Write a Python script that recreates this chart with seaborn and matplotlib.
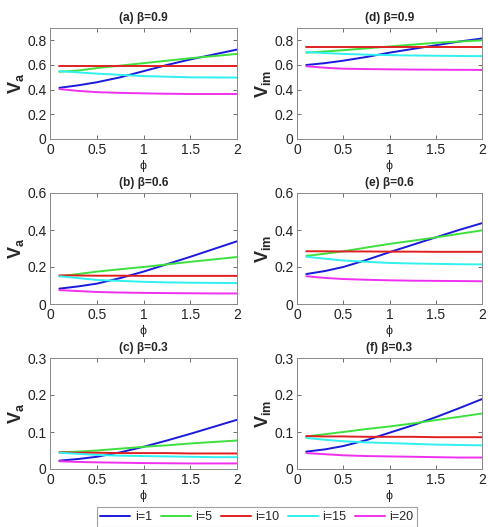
import numpy as np
import pandas as pd
import matplotlib
matplotlib.use("Agg")
import matplotlib.pyplot as plt
import seaborn as sns

phi = [0.1, 0.3, 0.5, 0.75, 1.0, 1.25, 1.5, 1.75, 2.0]
series_labels = ["i=1", "i=5", "i=10", "i=15", "i=20"]

# (a) Va, beta=0.9
a_i1 = [0.415, 0.435, 0.46, 0.50, 0.55, 0.60, 0.645, 0.685, 0.725]
a_i5 = [0.545, 0.555, 0.575, 0.595, 0.615, 0.635, 0.655, 0.672, 0.69]
a_i10 = [0.595, 0.595, 0.595, 0.595, 0.595, 0.595, 0.595, 0.595, 0.595]
a_i15 = [0.55, 0.54, 0.53, 0.52, 0.51, 0.505, 0.50, 0.499, 0.498]
a_i20 = [0.405, 0.39, 0.38, 0.374, 0.37, 0.367, 0.365, 0.365, 0.365]
# (d) Vim, beta=0.9
d_i1 = [0.60, 0.615, 0.635, 0.665, 0.70, 0.73, 0.76, 0.79, 0.815]
d_i5 = [0.70, 0.71, 0.72, 0.735, 0.75, 0.765, 0.78, 0.79, 0.80]
d_i10 = [0.745, 0.745, 0.745, 0.745, 0.745, 0.745, 0.745, 0.745, 0.745]
d_i15 = [0.705, 0.697, 0.69, 0.684, 0.68, 0.677, 0.675, 0.673, 0.672]
d_i20 = [0.59, 0.578, 0.57, 0.567, 0.565, 0.563, 0.562, 0.561, 0.56]
# (b) Va, beta=0.6
b_i1 = [0.083, 0.095, 0.11, 0.14, 0.175, 0.215, 0.255, 0.297, 0.339]
b_i5 = [0.15, 0.162, 0.175, 0.188, 0.20, 0.214, 0.228, 0.241, 0.254]
b_i10 = [0.155, 0.154, 0.153, 0.153, 0.152, 0.152, 0.152, 0.152, 0.152]
b_i15 = [0.15, 0.14, 0.13, 0.125, 0.12, 0.117, 0.115, 0.114, 0.113]
b_i20 = [0.075, 0.07, 0.065, 0.062, 0.06, 0.059, 0.058, 0.057, 0.057]
# (e) Vim, beta=0.6
e_i1 = [0.162, 0.178, 0.20, 0.238, 0.28, 0.32, 0.36, 0.40, 0.437]
e_i5 = [0.26, 0.272, 0.285, 0.305, 0.325, 0.342, 0.36, 0.379, 0.398]
e_i10 = [0.285, 0.285, 0.284, 0.284, 0.283, 0.283, 0.282, 0.282, 0.282]
e_i15 = [0.255, 0.245, 0.235, 0.228, 0.222, 0.219, 0.217, 0.215, 0.214]
e_i20 = [0.15, 0.141, 0.135, 0.131, 0.128, 0.126, 0.125, 0.124, 0.123]
# (c) Va, beta=0.3
c_i1 = [0.0225, 0.027, 0.033, 0.045, 0.06, 0.077, 0.095, 0.114, 0.133]
c_i5 = [0.045, 0.047, 0.05, 0.055, 0.06, 0.064, 0.069, 0.073, 0.077]
c_i10 = [0.045, 0.044, 0.044, 0.043, 0.043, 0.043, 0.042, 0.042, 0.042]
c_i15 = [0.044, 0.041, 0.038, 0.036, 0.035, 0.034, 0.033, 0.032, 0.032]
c_i20 = [0.021, 0.019, 0.018, 0.017, 0.016, 0.0155, 0.015, 0.015, 0.015]
# (f) Vim, beta=0.3
f_i1 = [0.047, 0.053, 0.062, 0.078, 0.098, 0.118, 0.14, 0.164, 0.189]
f_i5 = [0.088, 0.094, 0.10, 0.108, 0.115, 0.123, 0.132, 0.141, 0.15]
f_i10 = [0.089, 0.088, 0.088, 0.087, 0.087, 0.087, 0.086, 0.086, 0.086]
f_i15 = [0.084, 0.079, 0.075, 0.072, 0.07, 0.068, 0.066, 0.065, 0.064]
f_i20 = [0.043, 0.04, 0.037, 0.035, 0.034, 0.033, 0.032, 0.031, 0.031]

panels = [
    ("(a) β=0.9", "a", [a_i1, a_i5, a_i10, a_i15, a_i20], 0.9, [0, 0.2, 0.4, 0.6, 0.8]),
    ("(d) β=0.9", "im", [d_i1, d_i5, d_i10, d_i15, d_i20], 0.9, [0, 0.2, 0.4, 0.6, 0.8]),
    ("(b) β=0.6", "a", [b_i1, b_i5, b_i10, b_i15, b_i20], 0.6, [0, 0.2, 0.4, 0.6]),
    ("(e) β=0.6", "im", [e_i1, e_i5, e_i10, e_i15, e_i20], 0.6, [0, 0.2, 0.4, 0.6]),
    ("(c) β=0.3", "a", [c_i1, c_i5, c_i10, c_i15, c_i20], 0.3, [0, 0.1, 0.2, 0.3]),
    ("(f) β=0.3", "im", [f_i1, f_i5, f_i10, f_i15, f_i20], 0.3, [0, 0.1, 0.2, 0.3]),
]

sns.set_style("ticks")
plt.rcParams["font.family"] = ["Liberation Sans", "DejaVu Sans"]
plt.rcParams["xtick.direction"] = "in"
plt.rcParams["ytick.direction"] = "in"
plt.rcParams["mathtext.fontset"] = "custom"
plt.rcParams["mathtext.rm"] = "Liberation Sans"
plt.rcParams["mathtext.bf"] = "Liberation Sans:bold"

palette = {"i=1": "#1a1adc", "i=5": "#3ee03e", "i=10": "#e02020", "i=15": "#30f0f0", "i=20": "#f030f0"}

fig = plt.figure(figsize=(4.88, 5.27), dpi=100)
W, H = 488, 527
lefts = [50, 297]
widths = [187, 185]
tops = [28, 193, 358]
ah = 111

for k, (title, sub, data, ymax, yt) in enumerate(panels):
    r, c = divmod(k, 2)
    ax = fig.add_axes([lefts[c] / W, 1 - (tops[r] + ah) / H, widths[c] / W, ah / H])
    df = pd.DataFrame({
        "phi": np.tile(phi, len(series_labels)),
        "v": np.concatenate(data),
        "series": np.repeat(series_labels, len(phi)),
    })
    sns.lineplot(data=df, x="phi", y="v", hue="series", palette=palette,
                 hue_order=series_labels, linewidth=1.4, ax=ax, legend=(k == 0))
    ax.set_xlim(0, 2)
    ax.set_ylim(0, ymax)
    ax.set_xticks([0, 0.5, 1, 1.5, 2])
    ax.set_xticklabels(["0", "0.5", "1", "1.5", "2"])
    ax.set_yticks(yt)
    ax.set_yticklabels(["0"] + [f"{v:g}" for v in yt[1:]])
    ax.tick_params(labelsize=10, length=3, width=0.6, color="#555555",
                   top=True, right=True, labelcolor="#222222")
    ax.tick_params(axis="x", pad=3)
    ax.tick_params(axis="y", pad=2.5)
    for s in ax.spines.values():
        s.set_visible(True)
        s.set_color("#8a8a8a")
        s.set_linewidth(0.7)
    ax.set_title(title, fontsize=8.6, fontweight="bold", pad=5)
    ax.set_xlabel("ϕ", fontsize=9, labelpad=2)
    ax.set_ylabel(r"$\mathbf{V}_{\mathbf{%s}}$" % sub, fontsize=13, labelpad=1)
    if k == 0:
        handles, labels = ax.get_legend_handles_labels()
        ax.get_legend().remove()

leg = fig.legend(handles, labels, loc="center", ncol=5,
                 bbox_to_anchor=(257 / W, 1 - 517 / H), fontsize=9,
                 frameon=True, fancybox=False, edgecolor="#8a8a8a",
                 handlelength=2.4, columnspacing=0.7, handletextpad=0.35,
                 borderpad=0.3, borderaxespad=0)
leg.get_frame().set_linewidth(0.8)

fig.savefig("out.png", dpi=100, facecolor="white")
